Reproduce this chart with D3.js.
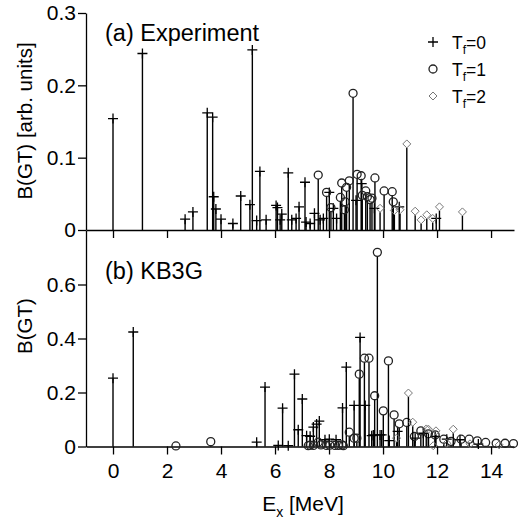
<!DOCTYPE html>
<html>
<head>
<meta charset="utf-8">
<script src="https://cdn.jsdelivr.net/npm/d3@7"></script>
<style>
  body { margin: 0; background: #fff; }
  text { font-family: "Liberation Sans", Arial, Helvetica, sans-serif; fill: #000; }
</style>
</head>
<body>
<script>
// data: [Ex (MeV), B(GT)]
var expT0 = [[0.0,0.154],[1.09,0.244],[2.67,0.015],[2.96,0.025],[3.49,0.162],[3.69,0.156],[3.73,0.046],
  [3.81,0.029],[4.0,0.015],[4.44,0.009],[4.73,0.047],[5.07,0.035],[5.16,0.249],[5.32,0.013],[5.44,0.081],
  [5.67,0.014],[6.04,0.034],[6.09,0.031],[6.19,0.014],[6.25,0.022],[6.49,0.079],[6.62,0.014],[6.78,0.016],
  [6.89,0.032],[7.11,0.066],[7.15,0.011],[7.30,0.009],[7.46,0.023],[7.67,0.014],[7.79,0.016],[8.01,0.052],
  [8.16,0.030],[8.28,0.016],[9.0,0.041],[9.21,0.064],[9.68,0.030],[10.6,0.032],[11.97,0.016]];
var expT1 = [[7.60,0.076],[7.91,0.052],[8.07,0.031],[8.42,0.045],[8.47,0.065],[8.57,0.028],[8.60,0.039],
  [8.65,0.059],[8.75,0.068],[8.89,0.189],[9.04,0.077],[9.19,0.075],[9.23,0.048],[9.36,0.054],[9.42,0.046],
  [9.52,0.042],[9.59,0.044],[9.70,0.072],[10.04,0.054],[10.34,0.053],[10.38,0.039]];
var expT2 = [[9.89,0.030],[10.42,0.027],[10.63,0.028],[10.88,0.119],[11.19,0.026],[11.41,0.014],
  [11.62,0.021],[11.84,0.016],[12.09,0.032],[12.94,0.025]];

var kbT0 = [[0.0,0.253],[0.75,0.424],[5.32,0.016],[5.63,0.22],[6.12,0.004],[6.28,0.142],[6.49,0.003],
  [6.72,0.268],[6.86,0.062],[7.01,0.176],[7.17,0.040],[7.30,0.038],[7.42,0.072],[7.54,0.083],[7.64,0.094],
  [7.85,0.025],[8.01,0.027],[8.26,0.025],[8.50,0.143],[8.64,0.294],[8.93,0.152],[9.15,0.404],[9.34,0.152],
  [9.58,0.040],[9.64,0.043],[9.89,0.043],[9.95,0.043],[10.23,0.022],[10.54,0.056],[11.19,0.031],
  [11.49,0.049],[11.93,0.037],[12.36,0.027],[12.85,0.025],[13.53,0.009]];
var kbT1 = [[2.33,0.002],[3.62,0.018],[7.23,0.003],[7.30,0.005],[7.42,0.004],[7.60,0.016],[7.70,0.006],
  [7.91,0.004],[8.03,0.005],[8.22,0.004],[8.35,0.004],[8.48,0.006],[8.53,0.003],[8.75,0.053],[8.93,0.031],
  [9.03,0.031],[9.12,0.268],[9.31,0.327],[9.48,0.327],[9.69,0.188],[9.79,0.719],[10.01,0.132],[10.20,0.317],
  [10.41,0.117],[10.60,0.084],[10.88,0.089],[11.16,0.037],[11.40,0.058],[11.68,0.047],[11.93,0.043],
  [12.25,0.027],[12.52,0.019],[12.89,0.027],[13.19,0.027],[13.49,0.021],[13.80,0.015],[14.19,0.012],
  [14.52,0.012],[14.83,0.011]];
var kbT2 = [[10.50,0.031],[10.94,0.198],[11.10,0.090],[11.60,0.065],[11.68,0.064],[11.86,0.003],
  [11.96,0.058],[12.36,0.012],[12.60,0.064],[13.22,0.010],[14.30,0.006]];

var xTicks = [0, 2, 4, 6, 8, 10, 12, 14];
var topTicks = [0, 0.1, 0.2, 0.3];
var botTicks = [0, 0.2, 0.4, 0.6];
var legendLabels = ["0", "1", "2"];

var W = 518, H = 520;
var svg = d3.select("body").append("svg").attr("width", W).attr("height", H);

var x = d3.scaleLinear().domain([-1, 14.85]).range([86, 514]);
var yTop = d3.scaleLinear().domain([0, 0.3]).range([230, 13]);
var yBot = d3.scaleLinear().domain([0, 0.8]).range([446.5, 230.5]);

var fmt = function(d) { return d === 0 ? "0" : d3.format(".1f")(d); };

function styleAxis(g) {
  g.selectAll("path, line").attr("stroke", "#000").attr("stroke-width", 1.3);
  g.selectAll("text").style("font-size", "21px").style("font-family", "'Liberation Sans', Arial, sans-serif");
}

// y axes
svg.append("g").attr("transform", "translate(86,0)")
  .call(d3.axisLeft(yTop).tickValues(topTicks).tickFormat(fmt).tickSize(8).tickSizeOuter(0).tickPadding(2))
  .call(styleAxis);
svg.append("g").attr("transform", "translate(86,0)")
  .call(d3.axisLeft(yBot).tickValues(botTicks).tickFormat(fmt).tickSize(8).tickSizeOuter(0).tickPadding(2))
  .call(styleAxis);

// x axes
svg.append("g").attr("transform", "translate(0,446.5)")
  .call(d3.axisBottom(x).tickValues(xTicks).tickSize(8).tickSizeOuter(0).tickPadding(9))
  .call(styleAxis);
// shared line between panels with inward ticks
svg.append("g").attr("transform", "translate(0,230)")
  .call(d3.axisBottom(x).tickValues(xTicks).tickFormat("").tickSize(8).tickSizeOuter(0))
  .call(styleAxis);

// stems and markers
var r = 4;
function drawSeries(data, y, kind) {
  var g = svg.append("g");
  var off = kind === "plus" ? 0 : r;
  g.selectAll("line.stem").data(data).enter().append("line")
    .attr("x1", function(d) { return x(d[0]); })
    .attr("x2", function(d) { return x(d[0]); })
    .attr("y1", y(0))
    .attr("y2", function(d) { return Math.min(y(0), y(d[1]) + off); })
    .attr("stroke", "#000").attr("stroke-width", 1.4);
  drawMarkers(g, data.map(function(d) { return [x(d[0]), y(d[1])]; }), kind);
}

function drawMarkers(g, pts, kind) {
  if (kind === "plus") {
    g.selectAll("path.m").data(pts).enter().append("path")
      .attr("d", function(p) { return "M" + (p[0] - 5) + "," + p[1] + "h10M" + p[0] + "," + (p[1] - 5) + "v10"; })
      .attr("stroke", "#000").attr("stroke-width", 1.3).attr("fill", "none");
  } else if (kind === "circle") {
    g.selectAll("circle.m").data(pts).enter().append("circle")
      .attr("cx", function(p) { return p[0]; }).attr("cy", function(p) { return p[1]; })
      .attr("r", r).attr("stroke", "#222").attr("stroke-width", 1.3).attr("fill", "none");
  } else {
    g.selectAll("path.m").data(pts).enter().append("path")
      .attr("d", function(p) { return "M" + p[0] + "," + (p[1] - 4) + "l4,4l-4,4l-4,-4z"; })
      .attr("stroke", "#777").attr("stroke-width", 1).attr("fill", "none");
  }
}

drawSeries(expT0, yTop, "plus");
drawSeries(expT1, yTop, "circle");
drawSeries(expT2, yTop, "diamond");
drawSeries(kbT0, yBot, "plus");
drawSeries(kbT1, yBot, "circle");
drawSeries(kbT2, yBot, "diamond");

// panel labels
svg.append("text").attr("x", 105).attr("y", 41).style("font-size", "23.5px").text("(a) Experiment");
svg.append("text").attr("x", 105).attr("y", 279).style("font-size", "23.5px").text("(b) KB3G");

// legend
var kinds = ["plus", "circle", "diamond"];
var lg = svg.append("g");
legendLabels.forEach(function(lab, i) {
  var cy = 42 + i * 27;
  drawMarkers(lg, [[433, cy]], kinds[i]);
  var t = lg.append("text").attr("x", 452).attr("y", cy + 6.5).style("font-size", "17.5px");
  t.append("tspan").text("T");
  t.append("tspan").attr("dy", 5).style("font-size", "12px").text("f");
  t.append("tspan").attr("dy", -5).text("=" + lab);
});

// axis titles
svg.append("text").attr("transform", "translate(32,121) rotate(-90)")
  .attr("text-anchor", "middle").style("font-size", "20.5px").text("B(GT) [arb. units]");
svg.append("text").attr("transform", "translate(32,326) rotate(-90)")
  .attr("text-anchor", "middle").style("font-size", "20.5px").text("B(GT)");
var xt = svg.append("text").attr("x", 303).attr("y", 511).attr("text-anchor", "middle").style("font-size", "21px");
xt.append("tspan").text("E");
xt.append("tspan").attr("dy", 6).style("font-size", "14px").text("x");
xt.append("tspan").attr("dy", -6).text(" [MeV]");
</script>
</body>
</html>
